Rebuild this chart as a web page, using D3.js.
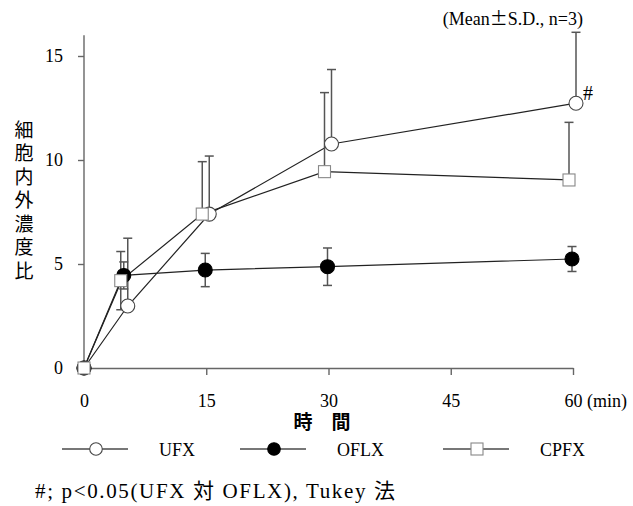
<!DOCTYPE html>
<html>
<head>
<meta charset="utf-8">
<script src="https://cdn.jsdelivr.net/npm/d3@7"></script>
<style>
  html, body { margin: 0; padding: 0; background: #fff; }
  svg { display: block; }
  .serif { font-family: "Liberation Serif", "Noto Sans CJK JP", serif; }
  .cjk { font-family: "Noto Sans CJK JP", sans-serif; }
</style>
</head>
<body>
<svg id="chart" width="633" height="506"></svg>
<script>
// Intracellular/extracellular concentration ratio over time (mean ± S.D., n=3)
const times = [0, 5, 15, 30, 60];

const ufxMean  = [0, 2.98, 7.40, 10.77, 12.73];
const ufxSD    = [0, 3.26, 2.79, 3.58, 3.41];

const oflxMean = [0, 4.45, 4.71, 4.87, 5.24];
const oflxSD   = [0, 0.65, 0.80, 0.90, 0.60];

const cpfxMean = [0, 4.20, 7.40, 9.44, 9.04];
const cpfxSD   = [0, 1.40, 2.52, 3.80, 2.77];

// which points also carry a downward error bar
const ufxLower  = [false, false, false, false, false];
const oflxLower = [false, true, true, true, true];
const cpfxLower = [false, true, false, false, false];

const xTicks = [0, 15, 30, 45, 60];
const yTicks = [0, 5, 10, 15];

const seriesNames = ["UFX", "OFLX", "CPFX"];
const yTitle = "細胞内外濃度比";
const xTitle = "時　間";
const footNote = "#; p<0.05(UFX 対 OFLX), Tukey 法";

const svg = d3.select("#chart");

const x = d3.scaleLinear().domain([0, 60]).range([84, 573]);
const y = d3.scaleLinear().domain([0, 16]).range([368, 35.2]);

const axisColor = "#666";
const tickFont = 18;

// axes
const xAxis = svg.append("g")
  .attr("transform", `translate(0,${y(0)})`)
  .call(d3.axisBottom(x).tickValues(xTicks).tickSize(7).tickSizeOuter(0).tickPadding(19));
const yAxis = svg.append("g")
  .attr("transform", `translate(${x(0)},0)`)
  .call(d3.axisLeft(y).tickValues(yTicks).tickSize(6).tickSizeOuter(0).tickPadding(15));

[xAxis, yAxis].forEach(g => {
  g.attr("font-family", null).attr("font-size", null);
  g.select(".domain").attr("stroke", axisColor).attr("stroke-width", 1.4);
  g.selectAll(".tick line").attr("stroke", axisColor).attr("stroke-width", 1.4);
  g.selectAll(".tick text")
    .attr("class", "serif")
    .attr("fill", "#000")
    .style("font-size", tickFont + "px");
});
yAxis.select(".domain").attr("d", `M0,${y(0)}V${y(16)}`);

// unit after the last x tick, on the tick labels' baseline
svg.append("text").attr("class", "serif")
  .attr("x", x(60) + 14).attr("y", y(0) + 7 + 19).attr("dy", "0.71em")
  .style("font-size", tickFont + "px")
  .text("(min)");

// axis titles
svg.append("text").attr("class", "cjk")
  .attr("x", 24).attr("y", 120)
  .style("writing-mode", "vertical-rl")
  .style("font-size", "19px")
  .style("letter-spacing", "4.5px")
  .text(yTitle);

svg.append("text").attr("class", "cjk")
  .attr("x", 322).attr("y", 429)
  .attr("text-anchor", "middle")
  .style("font-size", "19px").style("font-weight", "bold")
  .text(xTitle);

const note = svg.append("text").attr("class", "serif")
  .attr("x", 583).attr("y", 25)
  .attr("text-anchor", "end")
  .style("font-size", "18px");
note.append("tspan").text("(Mean");
note.append("tspan").attr("class", "cjk").text("±");
note.append("tspan").text("S.D., n=3)");

// series
const series = [
  { name: "UFX",  mean: ufxMean,  sd: ufxSD,  lower: ufxLower,  shape: "circle", fill: "#fff", stroke: "#444", dx: 3 },
  { name: "OFLX", mean: oflxMean, sd: oflxSD, lower: oflxLower, shape: "circle", fill: "#000", stroke: "#000", dx: -1 },
  { name: "CPFX", mean: cpfxMean, sd: cpfxSD, lower: cpfxLower, shape: "square", fill: "#fff", stroke: "#888", dx: -4 }
];
series.forEach(s => {
  s.points = times.map((t, i) => ({
    t, m: s.mean[i], sd: s.sd[i], lower: s.lower[i],
    px: x(t) + (t === 0 ? 0 : s.dx)
  }));
});

const line = d3.line().x(d => d.px).y(d => y(d.m));

const gLines = svg.append("g");
series.forEach(s => {
  gLines.append("path")
    .attr("d", line(s.points))
    .attr("fill", "none")
    .attr("stroke", "#222")
    .attr("stroke-width", 1.2);
});

// error bars
const gErr = svg.append("g").attr("stroke", "#555").attr("stroke-width", 1.5);
series.forEach(s => {
  s.points.filter(p => p.sd > 0).forEach(p => {
    const cx = p.px;
    const top = y(p.m + p.sd);
    gErr.append("line").attr("x1", cx).attr("x2", cx).attr("y1", y(p.m)).attr("y2", top);
    gErr.append("line").attr("x1", cx - 4.5).attr("x2", cx + 4.5).attr("y1", top).attr("y2", top);
    if (p.lower) {
      const bot = y(p.m - p.sd);
      gErr.append("line").attr("x1", cx).attr("x2", cx).attr("y1", y(p.m)).attr("y2", bot);
      gErr.append("line").attr("x1", cx - 4.5).attr("x2", cx + 4.5).attr("y1", bot).attr("y2", bot);
    }
  });
});

// markers
function drawMarker(g, s, cx, cy, size) {
  if (s.shape === "circle") {
    g.append("circle").attr("cx", cx).attr("cy", cy).attr("r", size)
      .attr("fill", s.fill).attr("stroke", s.stroke).attr("stroke-width", 1.1);
  } else {
    g.append("rect").attr("x", cx - size).attr("y", cy - size)
      .attr("width", size * 2).attr("height", size * 2)
      .attr("fill", s.fill).attr("stroke", s.stroke).attr("stroke-width", 1.1);
  }
}
const gMarks = svg.append("g");
series.forEach(s => {
  s.points.forEach(p => drawMarker(gMarks, s, p.px, y(p.m), s.shape === "circle" ? 7 : 6));
});

// significance mark next to UFX at 60 min
const ufxLast = series[0].points[4];
svg.append("text").attr("class", "serif")
  .attr("x", ufxLast.px + 7).attr("y", y(ufxLast.m) - 3)
  .style("font-size", "20px")
  .text("#");

// legend
const legendX = [62, 240, 443];
const legendY = 449;
const gLeg = svg.append("g");
series.forEach((s, i) => {
  const x0 = legendX[i];
  gLeg.append("line").attr("x1", x0).attr("x2", x0 + 66)
    .attr("y1", legendY).attr("y2", legendY)
    .attr("stroke", "#777").attr("stroke-width", 2);
  drawMarker(gLeg, s, x0 + 34, legendY, s.shape === "circle" ? 6.3 : 6);
  gLeg.append("text").attr("class", "serif")
    .attr("x", x0 + 97).attr("y", legendY + 7)
    .style("font-size", "18px")
    .text(seriesNames[i]);
});

svg.append("text").attr("class", "serif")
  .attr("x", 35).attr("y", 498)
  .attr("textLength", 360).attr("lengthAdjust", "spacing")
  .style("font-size", "21px")
  .text(footNote);
</script>
</body>
</html>
